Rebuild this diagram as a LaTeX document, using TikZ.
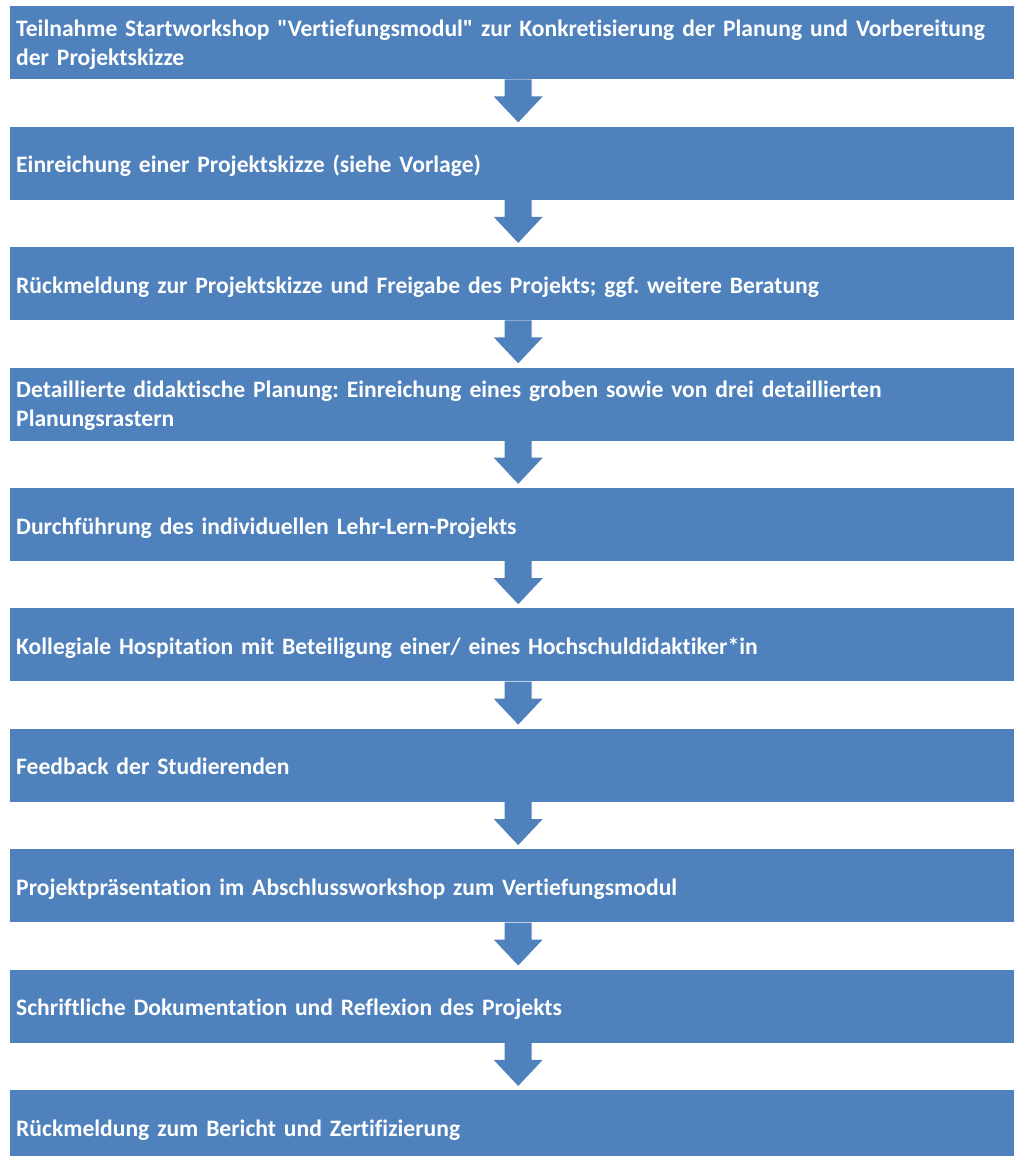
\documentclass[tikz,border=0pt]{standalone}
\usepackage{fontspec}
\setmainfont{Carlito}[Ligatures={TeXOff,NoCommon}]
\usetikzlibrary{calc}
\definecolor{boxblue}{HTML}{4F81BD}
\tikzset{
  stepbox/.style={fill=boxblue, anchor=north west, minimum width=1016pt, minimum height=73pt,
    text width=1004pt, inner xsep=5pt, inner ysep=0pt, align=left, text=white,
    text height=19pt, text depth=0pt,
    font=\fontsize{23.6}{29}\selectfont\bfseries\frenchspacing},
  twoline/.style={text height=16pt, text depth=29pt},
  blockarrow/.style={fill=boxblue}
}
\newcommand{\blockarr}[2]{%
  \fill[blockarrow] ($(#1.south)+(-13.5,0)$) -- ($(#1.south)+(-13.5,17)$) -- ($(#1.south)+(-24.5,17)$)
    -- ($(#2.north)+(0,-4)$) -- ($(#1.south)+(24.5,17)$) -- ($(#1.south)+(13.5,17)$)
    -- ($(#1.south)+(13.5,0)$) -- cycle;}
\begin{document}
\begin{tikzpicture}[x=1pt,y=-1pt]
\clip (0,0) rectangle (1014,1156);
\fill[white] (0,0) rectangle (1014,1156);
\node[stepbox,twoline] (b1) at (10,6) {Teilnahme Startworkshop "Vertiefungsmodul" zur Konkretisierung der Planung und Vorbereitung\\der Projektskizze};
\node[stepbox] (b2) at (10,126.4) {Einreichung einer Projektskizze (siehe Vorlage)};
\node[stepbox] (b3) at (10,246.9) {Rückmeldung zur Projektskizze und Freigabe des Projekts; ggf. weitere Beratung};
\node[stepbox,twoline] (b4) at (10,367.3) {Detaillierte didaktische Planung: Einreichung eines groben sowie von drei detaillierten\\Planungsrastern};
\node[stepbox] (b5) at (10,487.8) {Durchführung des individuellen Lehr-Lern-Projekts};
\node[stepbox] (b6) at (10,608.2) {Kollegiale Hospitation mit Beteiligung einer/ eines Hochschuldidaktiker*in};
\node[stepbox] (b7) at (10,728.6) {Feedback der Studierenden};
\node[stepbox] (b8) at (10,849.1) {Projektpräsentation im Abschlussworkshop zum Vertiefungsmodul};
\node[stepbox] (b9) at (10,969.5) {Schriftliche Dokumentation und Reflexion des Projekts};
\node[stepbox] (b10) at (10,1090) {Rückmeldung zum Bericht und Zertifizierung};
\blockarr{b1}{b2}
\blockarr{b2}{b3}
\blockarr{b3}{b4}
\blockarr{b4}{b5}
\blockarr{b5}{b6}
\blockarr{b6}{b7}
\blockarr{b7}{b8}
\blockarr{b8}{b9}
\blockarr{b9}{b10}
\end{tikzpicture}
\end{document}
